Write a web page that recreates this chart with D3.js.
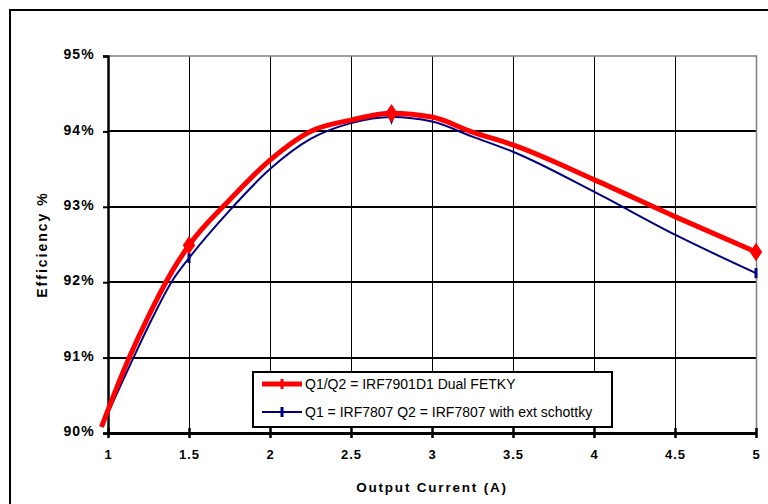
<!DOCTYPE html>
<html>
<head>
<meta charset="utf-8">
<script src="https://cdn.jsdelivr.net/npm/d3@7"></script>
<style>
  body { margin: 0; background: white; }
  svg text { font-family: "Liberation Sans", Arial, sans-serif; }
</style>
</head>
<body>
<div id="chart"></div>
<script>
// setup
var w = 768;
var h = 504;

// data
var current = [0.96, 1.125, 1.25, 1.4, 1.5, 1.75, 2, 2.25, 2.5, 2.75, 3, 3.25, 3.5, 4, 4.5, 5];
var fetky = [90.08, 90.97, 91.55, 92.16, 92.49, 93.09, 93.62, 94.0, 94.15, 94.24, 94.19, 93.99, 93.82, 93.36, 92.87, 92.40];
var schottky = [90.08, 90.85, 91.42, 92.03, 92.32, 92.95, 93.5, 93.9, 94.11, 94.19, 94.13, 93.93, 93.73, 93.2, 92.63, 92.12];
var markerX = [1.5, 2.75, 5];
var xTicks = [1, 1.5, 2, 2.5, 3, 3.5, 4, 4.5, 5];
var yTicks = [90, 91, 92, 93, 94, 95];
var seriesNames = ["Q1/Q2 = IRF7901D1 Dual FETKY", "Q1 = IRF7807 Q2 = IRF7807 with ext schottky"];

var svg = d3.select("#chart")
            .append("svg")
            .attr("width", w)
            .attr("height", h);

var x = d3.scaleLinear().domain([1, 5]).range([108, 756]);
var y = d3.scaleLinear().domain([90, 95]).range([433, 56]);

// outer frame (runs off the page on right and bottom)
svg.append("rect")
    .attr("x", 10).attr("y", 10)
    .attr("width", 800).attr("height", 600)
    .attr("fill", "none")
    .attr("stroke", "black")
    .attr("stroke-width", 2);

// vertical gridlines
svg.append("g")
    .selectAll("line")
    .data(xTicks.slice(1, -1))
    .enter()
    .append("line")
        .attr("x1", d => Math.round(x(d)) + 0.5).attr("x2", d => Math.round(x(d)) + 0.5)
        .attr("y1", y(95)).attr("y2", y(90))
        .attr("stroke", "black")
        .attr("stroke-width", 1);

// horizontal gridlines
svg.append("g")
    .selectAll("line")
    .data(yTicks.slice(1, -1))
    .enter()
    .append("line")
        .attr("x1", x(1)).attr("x2", x(5))
        .attr("y1", d => Math.round(y(d))).attr("y2", d => Math.round(y(d)))
        .attr("stroke", "black")
        .attr("stroke-width", 2);

// grey plot border top + right
svg.append("path")
    .attr("d", "M" + x(1) + "," + y(95) + "H" + (x(5) + 0.5) + "V" + y(90))
    .attr("fill", "none")
    .attr("stroke", "#808080")
    .attr("stroke-width", 1.5);

// y axis
var yAxis = svg.append("g")
    .attr("transform", "translate(" + x(1) + ",0)")
    .call(d3.axisLeft(y).tickValues(yTicks).tickSize(5).tickFormat(d => d + "%"));
yAxis.select(".domain").attr("stroke-width", 2.5);
yAxis.selectAll(".tick line").attr("stroke-width", 2);
yAxis.selectAll("text")
    .attr("x", -13)
    .attr("dy", "0.34em")
    .attr("transform", "translate(0,-2)")
    .style("font-size", "14px")
    .style("font-weight", "bold")
    .style("letter-spacing", "1.2px");

// x axis
var xAxis = svg.append("g")
    .attr("transform", "translate(0," + y(90) + ")")
    .call(d3.axisBottom(x).tickValues(xTicks).tickSizeInner(5).tickSizeOuter(0).tickFormat(d3.format("")));
xAxis.select(".domain").attr("stroke-width", 3);
xAxis.selectAll(".tick line").attr("y1", -5).attr("y2", 5).attr("stroke-width", 2.5);
xAxis.selectAll("text")
    .attr("y", 17)
    .style("font-size", "13px")
    .style("font-weight", "bold")
    .style("letter-spacing", "1px");

// axis titles
svg.append("text")
    .attr("x", (x(1) + x(5)) / 2)
    .attr("y", 492)
    .attr("text-anchor", "middle")
    .style("font-size", "13.5px")
    .style("font-weight", "bold")
    .style("letter-spacing", "1.8px")
    .text("Output Current (A)");

svg.append("text")
    .attr("transform", "translate(47," + ((y(90) + y(95)) / 2) + ") rotate(-90)")
    .attr("text-anchor", "middle")
    .style("font-size", "14px")
    .style("font-weight", "bold")
    .style("letter-spacing", "2px")
    .text("Efficiency %");

// lines
var line = d3.line()
    .x(d => x(d[0]))
    .y(d => y(d[1]))
    .curve(d3.curveMonotoneX);

svg.append("path")
    .datum(d3.zip(current, schottky))
    .attr("d", line)
    .attr("fill", "none")
    .attr("stroke", "#000080")
    .attr("stroke-width", 2);

svg.append("path")
    .datum(d3.zip(current, fetky))
    .attr("d", line)
    .attr("fill", "none")
    .attr("stroke", "red")
    .attr("stroke-width", 5);

// markers
var diamond = d3.symbol().type(d3.symbolDiamond);
function valueAt(arr, xv) { return arr[current.indexOf(xv)]; }

// blue: vertical dashes, diamond at the peak
svg.append("g")
    .selectAll("rect")
    .data(markerX.filter(d => d != 2.75))
    .enter()
    .append("rect")
        .attr("x", d => x(d) - 1.5)
        .attr("y", d => y(valueAt(schottky, d)) - 5)
        .attr("width", 3).attr("height", 10)
        .attr("fill", "#000080");
svg.append("path")
    .attr("d", diamond.size(50)())
    .attr("transform", "translate(" + x(2.75) + "," + y(valueAt(schottky, 2.75)) + ") scale(0.8,1.2)")
    .attr("fill", "#000080");

// red diamonds
svg.append("g")
    .selectAll("path")
    .data(markerX)
    .enter()
    .append("path")
        .attr("d", diamond.size(110)())
        .attr("transform", d => "translate(" + x(d) + "," + y(valueAt(fetky, d)) + ") scale(1.1,0.95)")
        .attr("fill", "red");

// legend
var legend = svg.append("g");
legend.append("rect")
    .attr("x", 253).attr("y", 372)
    .attr("width", 359).attr("height", 55)
    .attr("fill", "white")
    .attr("stroke", "black")
    .attr("stroke-width", 2);

var legendItems = [
    {name: seriesNames[0], color: "red", width: 5, ly: 384},
    {name: seriesNames[1], color: "#000080", width: 2, ly: 412}
];
legendItems.forEach(function(it) {
    legend.append("line")
        .attr("x1", 262).attr("x2", 302)
        .attr("y1", it.ly).attr("y2", it.ly)
        .attr("stroke", it.color)
        .attr("stroke-width", it.width);
    legend.append("rect")
        .attr("x", 280.5).attr("y", it.ly - 5)
        .attr("width", 3).attr("height", 10)
        .attr("fill", it.color);
    legend.append("text")
        .attr("x", 305)
        .attr("y", it.ly)
        .attr("dy", "0.35em")
        .style("font-size", "14px")
        .text(it.name);
});
</script>
</body>
</html>
